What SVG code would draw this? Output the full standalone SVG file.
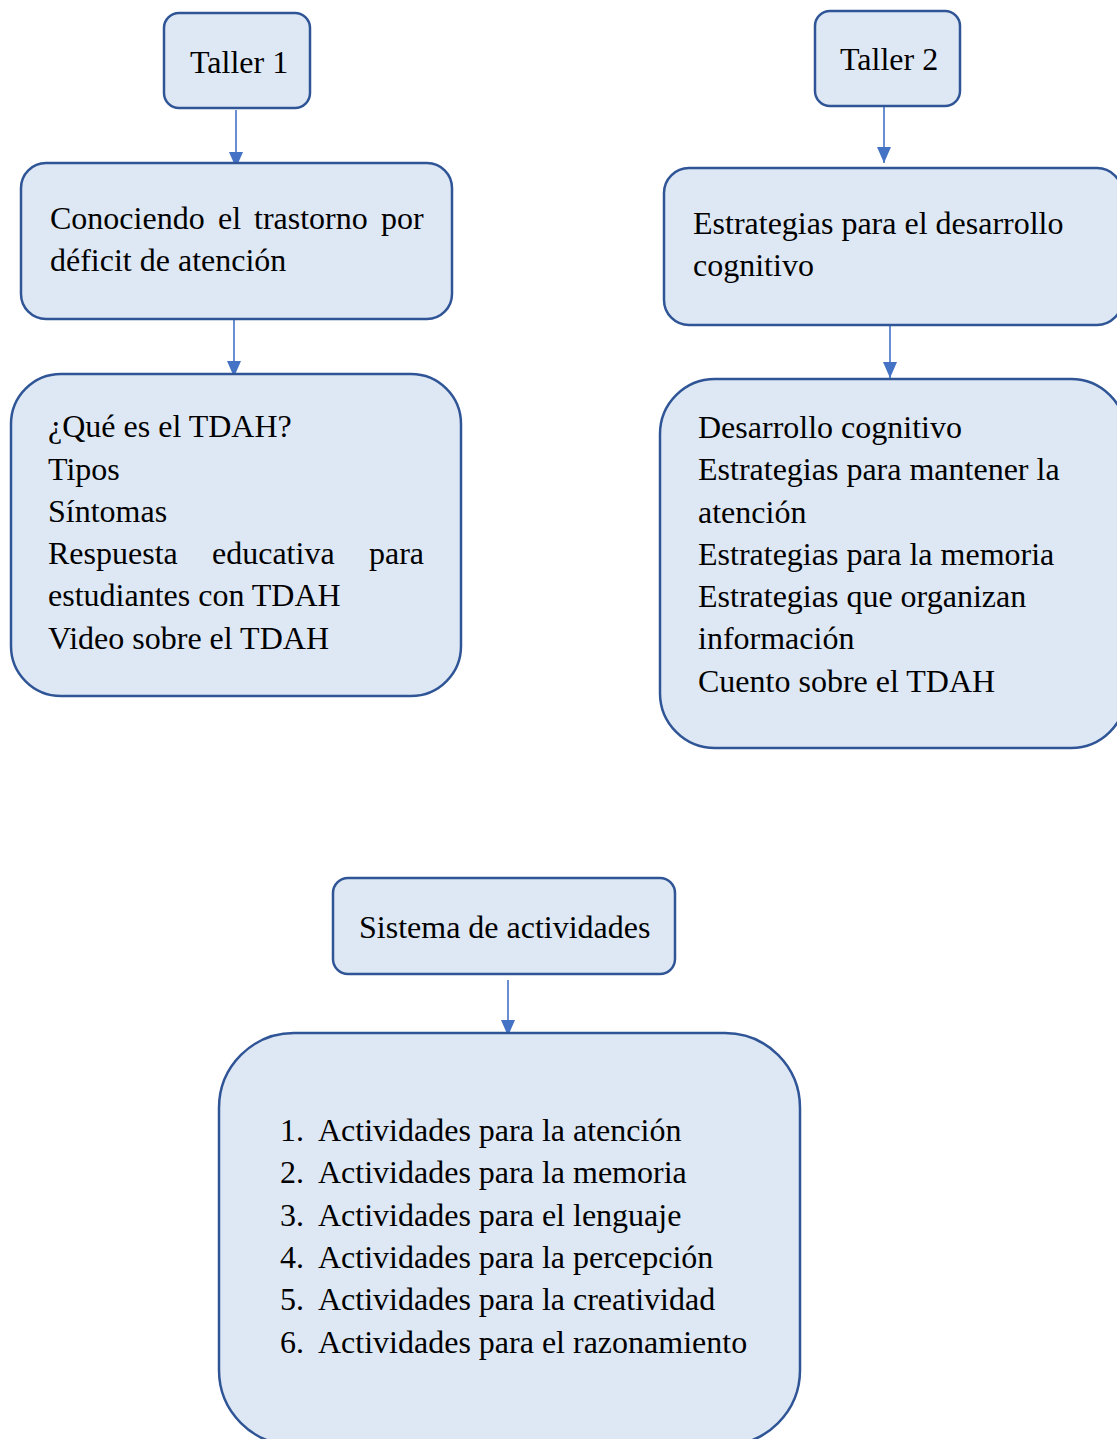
<svg xmlns="http://www.w3.org/2000/svg" width="1117" height="1439" viewBox="0 0 1117 1439">
<style>
.box{fill:#DEE8F4;stroke:#2F5597;stroke-width:2.5}
.t{font-family:"Liberation Serif","Times New Roman",serif;font-size:32px;fill:#000}
.c{stroke:#4472C4;stroke-width:1.6;fill:none;marker-end:url(#ah)}
</style>
<defs>
<marker id="ah" markerUnits="userSpaceOnUse" markerWidth="16" markerHeight="16" viewBox="0 0 16 14" refX="16" refY="7" orient="auto">
<path d="M0,0 L16,7 L0,14 z" fill="#4472C4"/>
</marker>
</defs>
<rect width="1117" height="1439" fill="#fff"/>

<g id="connectors">
<line class="c" x1="236" y1="110" x2="236" y2="168"/>
<line class="c" x1="234" y1="320" x2="234" y2="377"/>
<line class="c" x1="884" y1="107" x2="884" y2="163"/>
<line class="c" x1="890" y1="322" x2="890" y2="378"/>
<line class="c" x1="508" y1="980" x2="508" y2="1036"/>
</g>

<g id="taller1">
<rect class="box" x="164" y="13" width="146" height="95" rx="15"/>
<text class="t" x="190" y="73">Taller 1</text>
</g>

<g id="conociendo">
<rect class="box" x="21" y="163" width="431" height="156" rx="25"/>
<text class="t" y="229"><tspan x="50">Conociendo</tspan><tspan x="218">el</tspan><tspan x="254">trastorno</tspan><tspan x="381">por</tspan></text>
<text class="t" x="50" y="271">déficit de atención</text>
</g>

<g id="temas1">
<rect class="box" x="11" y="374" width="450" height="322" rx="50"/>
<text class="t" x="48" y="437">¿Qué es el TDAH?</text>
<text class="t" x="48" y="480">Tipos</text>
<text class="t" x="48" y="522">Síntomas</text>
<text class="t" y="564"><tspan x="48">Respuesta</tspan><tspan x="212">educativa</tspan><tspan x="369">para</tspan></text>
<text class="t" x="48" y="606">estudiantes con TDAH</text>
<text class="t" x="48" y="649">Video sobre el TDAH</text>
</g>

<g id="taller2">
<rect class="box" x="815" y="11" width="145" height="95" rx="15"/>
<text class="t" x="840" y="70">Taller 2</text>
</g>

<g id="estrategias">
<rect class="box" x="664" y="168" width="458" height="157" rx="25"/>
<text class="t" x="693" y="234">Estrategias para el desarrollo</text>
<text class="t" x="693" y="276">cognitivo</text>
</g>

<g id="temas2">
<rect class="box" x="660" y="379" width="466" height="369" rx="55"/>
<text class="t" x="698" y="438">Desarrollo cognitivo</text>
<text class="t" x="698" y="480">Estrategias para mantener la</text>
<text class="t" x="698" y="523">atención</text>
<text class="t" x="698" y="565">Estrategias para la memoria</text>
<text class="t" x="698" y="607">Estrategias que organizan</text>
<text class="t" x="698" y="649">información</text>
<text class="t" x="698" y="692">Cuento sobre el TDAH</text>
</g>

<g id="sistema">
<rect class="box" x="333" y="878" width="342" height="96" rx="15"/>
<text class="t" x="359" y="938">Sistema de actividades</text>
</g>

<g id="actividades">
<rect class="box" x="219" y="1033" width="581" height="412" rx="75"/>
<text class="t" x="280" y="1141">1.</text><text class="t" x="318" y="1141">Actividades para la atención</text>
<text class="t" x="280" y="1183">2.</text><text class="t" x="318" y="1183">Actividades para la memoria</text>
<text class="t" x="280" y="1226">3.</text><text class="t" x="318" y="1226">Actividades para el lenguaje</text>
<text class="t" x="280" y="1268">4.</text><text class="t" x="318" y="1268">Actividades para la percepción</text>
<text class="t" x="280" y="1310">5.</text><text class="t" x="318" y="1310">Actividades para la creatividad</text>
<text class="t" x="280" y="1353">6.</text><text class="t" x="318" y="1353">Actividades para el razonamiento</text>
</g>
</svg>
